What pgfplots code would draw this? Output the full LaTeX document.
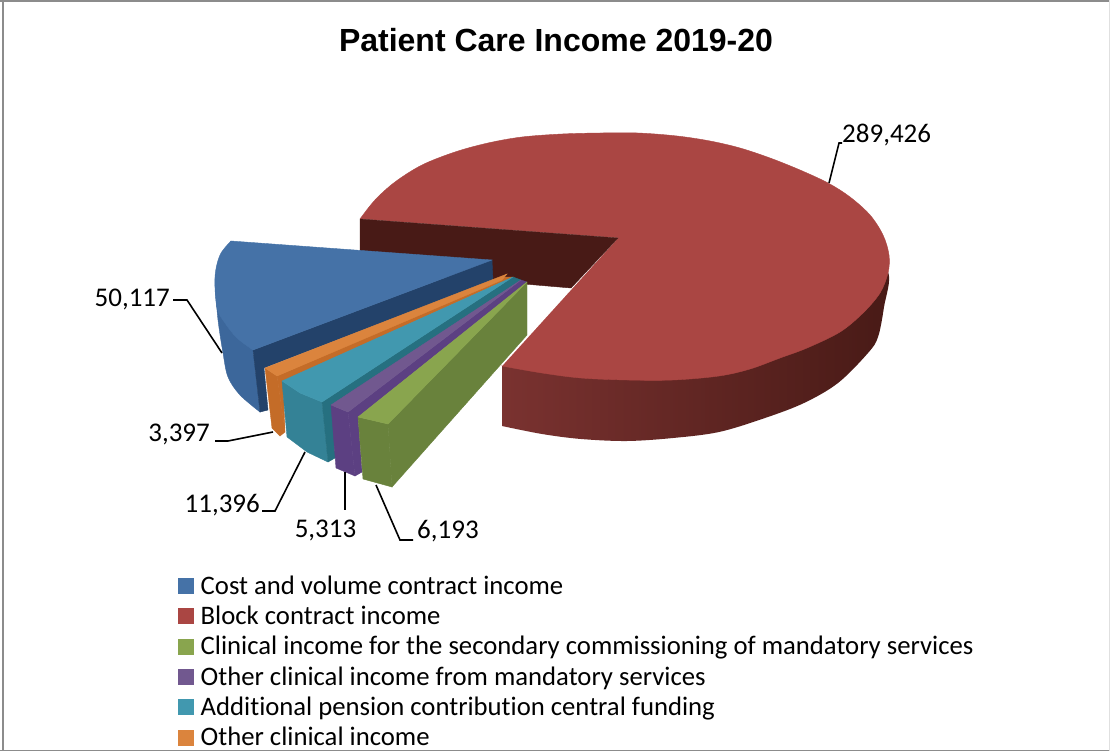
\documentclass[border=0pt]{standalone}
\usepackage{pgfplots}
\pgfplotsset{compat=1.18}
\usepackage{fontspec}
\setmainfont[Ligatures=NoCommon]{Carlito}
\newfontfamily\titlefont{Liberation Sans}
\definecolor{cblue}{RGB}{69,114,167}
\definecolor{cblues}{RGB}{60,103,155}
\definecolor{cbluew}{RGB}{35,66,106}
\definecolor{cred}{RGB}{170,70,67}
\definecolor{credw}{RGB}{72,26,22}
\definecolor{credf}{RGB}{122,50,48}
\definecolor{cgreen}{RGB}{137,165,78}
\definecolor{cgreenw}{RGB}{105,130,60}
\definecolor{cpurple}{RGB}{113,88,143}
\definecolor{cpurpled}{RGB}{92,64,130}
\definecolor{cteal}{RGB}{65,152,175}
\definecolor{cteals}{RGB}{52,130,150}
\definecolor{ctealw}{RGB}{38,112,128}
\definecolor{corange}{RGB}{219,132,61}
\definecolor{corangew}{RGB}{196,108,40}
\definecolor{cframe}{RGB}{140,140,140}
\pgfplotsset{
  poly/.style={forget plot,fill=#1,draw=#1,line width=0.4pt,mark=none},
  arc/.style={forget plot,fill=#1,draw=#1,line width=0.4pt,mark=none,smooth,tension=0.55},
  lead/.style={forget plot,black,line width=1.6pt,mark=none},
  legsq/.style={legend image code/.code={\fill[#1] (0pt,-7.5pt) rectangle (15pt,7.5pt);}}
}
\begin{document}
\begin{tikzpicture}
\begin{axis}[
  scale only axis,width=1110pt,height=751pt,
  xmin=0,xmax=1110,ymin=0,ymax=751,y dir=reverse,
  hide axis,clip=true,
  legend style={at={(axis cs:178.3,573.5)},anchor=north west,draw=none,fill=none,
    font=\fontsize{26.7}{30}\selectfont,row sep=6.3pt,inner sep=0pt,outer sep=0pt,
    /tikz/every odd column/.style={column sep=5pt}},
  legend cell align=left,
]
% canvas
\addplot[forget plot,fill=white,draw=none,mark=none] coordinates {(0,0)(1110,0)(1110,751)(0,751)} --cycle;
% frame
\addplot[forget plot,cframe,line width=2pt,mark=none] coordinates {(0,0.8)(1110,0.8)};
\addplot[forget plot,cframe,line width=2pt,mark=none] coordinates {(2.8,0)(2.8,751)};
\addplot[forget plot,cframe,line width=1.5pt,mark=none] coordinates {(0,750.3)(1110,750.3)};
\addplot[forget plot,black!12,line width=1pt,mark=none] coordinates {(1109.3,0)(1109.3,751)};
% red slice: outer side
\addplot[forget plot,draw=none,mark=none,smooth,tension=0.55,shading=axis,left color=credf,middle color=credw,right color=credw] coordinates {(502,366)(600,350)(760,330)(860,255)(888,272)(884,307)(878,337)(868,353)(838,383)(804,403)(765,418)(719,432)(673,438)(627,441)(581,439)(542,434)(502,426)} --cycle;
% red slice: top
\addplot[arc=cred] coordinates {(360,219)(375,200)(395,182)(422,165)(455,152)(488,143)(522,137)(562,134)(600,133)(638,133)(677,136)(710,141)(740,148)(770,158)(800,170)(828,183)(850,197)(870,215)(883,235)(889,255)(888,273)(880,293)(863,313)(840,332)(807,348)(780,358)(750,369)(719,376)(673,380)(627,380)(581,378)(542,373)(502,366)};
% notch
\addplot[forget plot,fill=white,draw=none,mark=none] coordinates {(360,219)(618,238)(502,366)} --cycle;
% red slice: inner wall
\addplot[poly=credw] coordinates {(360,219)(618,238)(571,288)(360,270)} --cycle;
% blue slice
\addplot[arc=cblues] coordinates {(215,285)(218,320)(223,353)(228,377)(240,395)(260,412)};
\addplot[poly=cblues] coordinates {(218,300)(253,350)(260,412)(240,390)(228,365)(224,335)} --cycle;
\addplot[poly=cbluew] coordinates {(253,350)(492,260)(493,280)(264,368)(268,410)(260,412)} --cycle;
\addplot[arc=cblue] coordinates {(231,241)(220,255)(215,277)(217,308)(225,323)(237,338)(253,350)};
\addplot[poly=cblue] coordinates {(231,241)(492,260)(253,350)(237,336)(226,320)(220,300)(219,272)(224,255)} --cycle;
% orange slice
\addplot[poly=corangew] coordinates {(265,368)(277,376)(285,432)(280,436)(272,428)} --cycle;
\addplot[poly=corangew] coordinates {(277,376)(505,277)(513,277)(283,381)(285,432)} --cycle;
\addplot[poly=corange] coordinates {(265,368)(507,274)(502,280)(277,376)} --cycle;
% teal slice
\addplot[poly=cteals] coordinates {(282,381)(300,393)(322,402)(328,462)(307,452)(287,437)} --cycle;
\addplot[poly=ctealw] coordinates {(322,402)(513,277)(521,280)(333,405)(335,458)(328,462)} --cycle;
\addplot[poly=cteal] coordinates {(282,381)(513,277)(322,402)(300,393)} --cycle;
% purple slice
\addplot[poly=cpurpled] coordinates {(331,405)(348,412)(355,476)(336,468)} --cycle;
\addplot[poly=cpurpled] coordinates {(348,412)(521,280)(527,282)(358,417)(362,472)(355,476)} --cycle;
\addplot[poly=cpurple] coordinates {(331,405)(521,280)(348,412)} --cycle;
% green slice
\addplot[poly=cgreenw] coordinates {(358,417)(388,424)(392,487)(363,479)} --cycle;
\addplot[poly=cgreenw] coordinates {(388,424)(527,282)(527,335)(392,487)} --cycle;
\addplot[poly=cgreen] coordinates {(358,417)(527,282)(388,424)} --cycle;
% leader lines
\addplot[lead] coordinates {(173,300)(187,300)(222,353)};
\addplot[lead] coordinates {(215,441)(228,441)(273,432)};
\addplot[lead] coordinates {(262,511)(275,511)(305,452)};
\addplot[lead] coordinates {(345,472)(345,510)};
\addplot[lead] coordinates {(376,485)(400,540)(413,540)};
\addplot[lead] coordinates {(829,183)(839,143)(842,143)};
% legend
\addlegendimage{legsq=cblue}\addlegendentry{Cost and volume contract income}
\addlegendimage{legsq=cred}\addlegendentry{Block contract income}
\addlegendimage{legsq=cgreen}\addlegendentry{Clinical income for the secondary commissioning of mandatory services}
\addlegendimage{legsq=cpurple}\addlegendentry{Other clinical income from mandatory services}
\addlegendimage{legsq=cteal}\addlegendentry{Additional pension contribution central funding}
\addlegendimage{legsq=corange}\addlegendentry{Other clinical income}
% texts
\node[anchor=center,font=\titlefont\bfseries\fontsize{32}{36}\selectfont] at (axis cs:556,40) {Patient Care Income 2019-20};
\node[anchor=west,font=\fontsize{27}{30}\selectfont,inner sep=0pt] at (axis cs:842,135) {289,426};
\node[anchor=east,font=\fontsize{27}{30}\selectfont,inner sep=0pt] at (axis cs:170,299) {50,117};
\node[anchor=east,font=\fontsize{27}{30}\selectfont,inner sep=0pt] at (axis cs:210,434) {3,397};
\node[anchor=east,font=\fontsize{27}{30}\selectfont,inner sep=0pt] at (axis cs:260,505) {11,396};
\node[anchor=center,font=\fontsize{27}{30}\selectfont,inner sep=0pt] at (axis cs:325.5,530) {5,313};
\node[anchor=west,font=\fontsize{27}{30}\selectfont,inner sep=0pt] at (axis cs:417,531) {6,193};
\end{axis}
\end{tikzpicture}
\end{document}
